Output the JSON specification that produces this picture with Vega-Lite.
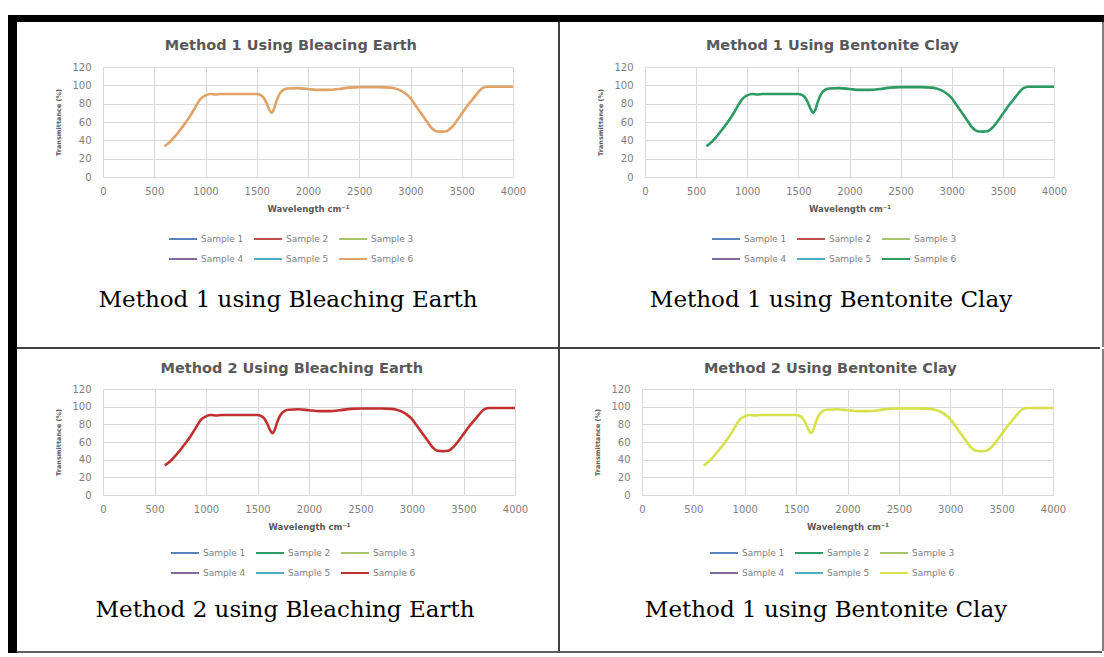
{
  "$schema": "https://vega.github.io/schema/vega-lite/v6.json",
  "background": "white",
  "padding": {"left": 8, "top": 15, "right": 0, "bottom": 0},
  "spacing": 0,
  "resolve": {"scale": {"color": "independent"}, "legend": {"color": "independent"}},
  "datasets": {
    "none": [],
    "ir": [
      {"w": 600, "t": 33.5, "s": "Sample 6"},
      {"w": 650, "t": 38, "s": "Sample 6"},
      {"w": 700, "t": 44, "s": "Sample 6"},
      {"w": 750, "t": 51, "s": "Sample 6"},
      {"w": 800, "t": 58.5, "s": "Sample 6"},
      {"w": 850, "t": 66.5, "s": "Sample 6"},
      {"w": 900, "t": 76, "s": "Sample 6"},
      {"w": 950, "t": 85, "s": "Sample 6"},
      {"w": 1000, "t": 89, "s": "Sample 6"},
      {"w": 1050, "t": 90.5, "s": "Sample 6"},
      {"w": 1100, "t": 90, "s": "Sample 6"},
      {"w": 1150, "t": 90.5, "s": "Sample 6"},
      {"w": 1200, "t": 90.5, "s": "Sample 6"},
      {"w": 1300, "t": 90.5, "s": "Sample 6"},
      {"w": 1400, "t": 90.5, "s": "Sample 6"},
      {"w": 1500, "t": 90.5, "s": "Sample 6"},
      {"w": 1550, "t": 88.5, "s": "Sample 6"},
      {"w": 1590, "t": 82, "s": "Sample 6"},
      {"w": 1620, "t": 74, "s": "Sample 6"},
      {"w": 1645, "t": 70, "s": "Sample 6"},
      {"w": 1665, "t": 73, "s": "Sample 6"},
      {"w": 1690, "t": 82, "s": "Sample 6"},
      {"w": 1720, "t": 90, "s": "Sample 6"},
      {"w": 1760, "t": 95, "s": "Sample 6"},
      {"w": 1800, "t": 96.5, "s": "Sample 6"},
      {"w": 1900, "t": 97, "s": "Sample 6"},
      {"w": 2000, "t": 96, "s": "Sample 6"},
      {"w": 2100, "t": 95, "s": "Sample 6"},
      {"w": 2200, "t": 95, "s": "Sample 6"},
      {"w": 2300, "t": 96, "s": "Sample 6"},
      {"w": 2400, "t": 97.5, "s": "Sample 6"},
      {"w": 2500, "t": 98, "s": "Sample 6"},
      {"w": 2600, "t": 98, "s": "Sample 6"},
      {"w": 2700, "t": 98, "s": "Sample 6"},
      {"w": 2800, "t": 97.5, "s": "Sample 6"},
      {"w": 2850, "t": 96.5, "s": "Sample 6"},
      {"w": 2900, "t": 94.5, "s": "Sample 6"},
      {"w": 2950, "t": 91, "s": "Sample 6"},
      {"w": 3000, "t": 86, "s": "Sample 6"},
      {"w": 3050, "t": 78, "s": "Sample 6"},
      {"w": 3100, "t": 70, "s": "Sample 6"},
      {"w": 3150, "t": 62, "s": "Sample 6"},
      {"w": 3200, "t": 54, "s": "Sample 6"},
      {"w": 3250, "t": 50, "s": "Sample 6"},
      {"w": 3300, "t": 49.5, "s": "Sample 6"},
      {"w": 3350, "t": 50, "s": "Sample 6"},
      {"w": 3400, "t": 54, "s": "Sample 6"},
      {"w": 3450, "t": 61, "s": "Sample 6"},
      {"w": 3500, "t": 69, "s": "Sample 6"},
      {"w": 3550, "t": 77, "s": "Sample 6"},
      {"w": 3600, "t": 84, "s": "Sample 6"},
      {"w": 3650, "t": 91, "s": "Sample 6"},
      {"w": 3700, "t": 97, "s": "Sample 6"},
      {"w": 3750, "t": 98.5, "s": "Sample 6"},
      {"w": 3800, "t": 98.5, "s": "Sample 6"},
      {"w": 3900, "t": 98.5, "s": "Sample 6"},
      {"w": 4000, "t": 98.5, "s": "Sample 6"}
    ]
  },
  "vconcat": [
    {"width": 1096, "height": 7, "data": {"name": "none"}, "mark": "rect", "view": {"fill": "black", "stroke": null}},
    {
      "spacing": 0,
      "resolve": {"scale": {"color": "independent"}, "legend": {"color": "independent"}},
      "hconcat": [
        {"width": 9, "height": 631, "data": {"name": "none"}, "mark": "rect", "view": {"fill": "black", "stroke": null}},
        {
          "spacing": 0,
          "resolve": {"scale": {"color": "independent"}, "legend": {"color": "independent"}},
          "vconcat": [
            {
              "spacing": 0,
              "resolve": {"scale": {"color": "independent"}, "legend": {"color": "independent"}},
              "hconcat": [
                {"width": 38, "height": 1, "data": {"name": "none"}, "mark": "rect"},
                {
                  "spacing": 0,
                  "resolve": {"scale": {"color": "independent"}, "legend": {"color": "independent"}},
                  "vconcat": [
                    {"width": 1, "height": 15, "data": {"name": "none"}, "mark": "rect"},
                    {
                      "width": 410, "height": 110,
                      "title": {"text": "Method 1 Using Bleacing Earth", "offset": 9},
                      "data": {"name": "ir"},
                      "mark": {"type": "line", "interpolate": "monotone", "strokeWidth": 2.6},
                      "encoding": {
                        "x": {"field": "w", "type": "quantitative", "scale": {"domain": [0, 4000], "nice": false}, "axis": {"values": [0, 500, 1000, 1500, 2000, 2500, 3000, 3500, 4000], "format": "d", "title": "Wavelength cm⁻¹"}},
                        "y": {"field": "t", "type": "quantitative", "scale": {"domain": [0, 120], "nice": false}, "axis": {"values": [0, 20, 40, 60, 80, 100, 120], "format": "d", "title": "Transmittance (%)"}},
                        "color": {"field": "s", "type": "nominal", "scale": {"domain": ["Sample 1", "Sample 2", "Sample 3", "Sample 4", "Sample 5", "Sample 6"], "range": ["#5b84be", "#c0504d", "#a9c46c", "#7f6a9e", "#4facc6", "#e0a266"]}, "legend": {"title": null, "orient": "none", "legendX": 65, "legendY": 157}}
                      }
                    },
                    {"width": 1, "height": 25, "data": {"name": "none"}, "mark": "rect"},
                    {"width": 370, "height": 1, "data": {"name": "none"}, "mark": "rect", "title": {"text": "Method 1 using Bleaching Earth", "font": "DejaVu Serif", "fontSize": 23, "fontWeight": "normal", "color": "black", "anchor": "middle", "frame": "group", "offset": 0}}
                  ]
                },
                {"width": 32, "height": 1, "data": {"name": "none"}, "mark": "rect"},
                {"width": 2, "height": 325, "data": {"name": "none"}, "mark": "rect", "view": {"fill": "#404040", "stroke": null}},
                {"width": 37, "height": 1, "data": {"name": "none"}, "mark": "rect"},
                {
                  "spacing": 0,
                  "resolve": {"scale": {"color": "independent"}, "legend": {"color": "independent"}},
                  "vconcat": [
                    {"width": 1, "height": 15, "data": {"name": "none"}, "mark": "rect"},
                    {
                      "width": 409, "height": 110,
                      "title": {"text": "Method 1 Using Bentonite Clay", "offset": 9},
                      "data": {"name": "ir"},
                      "mark": {"type": "line", "interpolate": "monotone", "strokeWidth": 2.6},
                      "encoding": {
                        "x": {"field": "w", "type": "quantitative", "scale": {"domain": [0, 4000], "nice": false}, "axis": {"values": [0, 500, 1000, 1500, 2000, 2500, 3000, 3500, 4000], "format": "d", "title": "Wavelength cm⁻¹"}},
                        "y": {"field": "t", "type": "quantitative", "scale": {"domain": [0, 120], "nice": false}, "axis": {"values": [0, 20, 40, 60, 80, 100, 120], "format": "d", "title": "Transmittance (%)"}},
                        "color": {"field": "s", "type": "nominal", "scale": {"domain": ["Sample 1", "Sample 2", "Sample 3", "Sample 4", "Sample 5", "Sample 6"], "range": ["#5b84be", "#c0504d", "#a9c46c", "#7f6a9e", "#4facc6", "#2e9a63"]}, "legend": {"title": null, "orient": "none", "legendX": 66, "legendY": 157}}
                      }
                    },
                    {"width": 1, "height": 25, "data": {"name": "none"}, "mark": "rect"},
                    {"width": 372, "height": 1, "data": {"name": "none"}, "mark": "rect", "title": {"text": "Method 1 using Bentonite Clay", "font": "DejaVu Serif", "fontSize": 23, "fontWeight": "normal", "color": "black", "anchor": "middle", "frame": "group", "offset": 0}}
                  ]
                },
                {"width": 35, "height": 1, "data": {"name": "none"}, "mark": "rect"},
                {"width": 2, "height": 325, "data": {"name": "none"}, "mark": "rect", "view": {"fill": "#808080", "stroke": null}}
              ]
            },
            {"width": 1083, "height": 2, "data": {"name": "none"}, "mark": "rect", "view": {"fill": "#404040", "stroke": null}},
            {
              "spacing": 0,
              "resolve": {"scale": {"color": "independent"}, "legend": {"color": "independent"}},
              "hconcat": [
                {"width": 38, "height": 1, "data": {"name": "none"}, "mark": "rect"},
                {
                  "spacing": 0,
                  "resolve": {"scale": {"color": "independent"}, "legend": {"color": "independent"}},
                  "vconcat": [
                    {"width": 1, "height": 11, "data": {"name": "none"}, "mark": "rect"},
                    {
                      "width": 412, "height": 106,
                      "title": {"text": "Method 2 Using Bleaching Earth", "offset": 8},
                      "data": {"name": "ir"},
                      "mark": {"type": "line", "interpolate": "monotone", "strokeWidth": 2.6},
                      "encoding": {
                        "x": {"field": "w", "type": "quantitative", "scale": {"domain": [0, 4000], "nice": false}, "axis": {"values": [0, 500, 1000, 1500, 2000, 2500, 3000, 3500, 4000], "format": "d", "title": "Wavelength cm⁻¹"}},
                        "y": {"field": "t", "type": "quantitative", "scale": {"domain": [0, 120], "nice": false}, "axis": {"values": [0, 20, 40, 60, 80, 100, 120], "format": "d", "title": "Transmittance (%)"}},
                        "color": {"field": "s", "type": "nominal", "scale": {"domain": ["Sample 1", "Sample 2", "Sample 3", "Sample 4", "Sample 5", "Sample 6"], "range": ["#5b84be", "#2e9a63", "#a9c46c", "#7f6a9e", "#4facc6", "#c0302f"]}, "legend": {"title": null, "orient": "none", "legendX": 67, "legendY": 149}}
                      }
                    },
                    {"width": 1, "height": 21, "data": {"name": "none"}, "mark": "rect"},
                    {"width": 364, "height": 1, "data": {"name": "none"}, "mark": "rect", "title": {"text": "Method 2 using Bleaching Earth", "font": "DejaVu Serif", "fontSize": 23, "fontWeight": "normal", "color": "black", "anchor": "middle", "frame": "group", "offset": 0}}
                  ]
                },
                {"width": 30, "height": 1, "data": {"name": "none"}, "mark": "rect"},
                {"width": 2, "height": 302, "data": {"name": "none"}, "mark": "rect", "view": {"fill": "#404040", "stroke": null}},
                {"width": 34, "height": 1, "data": {"name": "none"}, "mark": "rect"},
                {
                  "spacing": 0,
                  "resolve": {"scale": {"color": "independent"}, "legend": {"color": "independent"}},
                  "vconcat": [
                    {"width": 1, "height": 11, "data": {"name": "none"}, "mark": "rect"},
                    {
                      "width": 411, "height": 106,
                      "title": {"text": "Method 2 Using Bentonite Clay", "offset": 8},
                      "data": {"name": "ir"},
                      "mark": {"type": "line", "interpolate": "monotone", "strokeWidth": 2.6},
                      "encoding": {
                        "x": {"field": "w", "type": "quantitative", "scale": {"domain": [0, 4000], "nice": false}, "axis": {"values": [0, 500, 1000, 1500, 2000, 2500, 3000, 3500, 4000], "format": "d", "title": "Wavelength cm⁻¹"}},
                        "y": {"field": "t", "type": "quantitative", "scale": {"domain": [0, 120], "nice": false}, "axis": {"values": [0, 20, 40, 60, 80, 100, 120], "format": "d", "title": "Transmittance (%)"}},
                        "color": {"field": "s", "type": "nominal", "scale": {"domain": ["Sample 1", "Sample 2", "Sample 3", "Sample 4", "Sample 5", "Sample 6"], "range": ["#5b84be", "#2e9a63", "#a9c46c", "#7f6a9e", "#4facc6", "#d6e24a"]}, "legend": {"title": null, "orient": "none", "legendX": 67, "legendY": 149}}
                      }
                    },
                    {"width": 1, "height": 21, "data": {"name": "none"}, "mark": "rect"},
                    {"width": 368, "height": 1, "data": {"name": "none"}, "mark": "rect", "title": {"text": "Method 1 using Bentonite Clay", "font": "DejaVu Serif", "fontSize": 23, "fontWeight": "normal", "color": "black", "anchor": "middle", "frame": "group", "offset": 0}}
                  ]
                },
                {"width": 36, "height": 1, "data": {"name": "none"}, "mark": "rect"},
                {"width": 2, "height": 302, "data": {"name": "none"}, "mark": "rect", "view": {"fill": "#808080", "stroke": null}}
              ]
            },
            {"width": 1085, "height": 2, "data": {"name": "none"}, "mark": "rect", "view": {"fill": "#606060", "stroke": null}}
          ]
        }
      ]
    }
  ],
  "config": {
    "view": {"stroke": null},
    "font": "DejaVu Sans",
    "title": {"font": "DejaVu Sans", "fontSize": 14.5, "fontWeight": "bold", "color": "#595959", "anchor": "middle", "frame": "bounds"},
    "axis": {"domain": false, "ticks": false, "grid": true, "gridColor": "#d9d9d9", "gridWidth": 1, "labelFont": "DejaVu Sans", "labelFontSize": 10, "labelColor": "#808080", "titleFont": "DejaVu Sans", "titleFontSize": 8.5, "titleFontWeight": "bold", "titleColor": "#595959"},
    "axisX": {"labelPadding": 9, "titlePadding": 8, "labelFlush": false},
    "axisY": {"labelPadding": 12, "titlePadding": 10, "titleFontSize": 6.5},
    "legend": {"direction": "horizontal", "columns": 3, "symbolType": "stroke", "symbolStrokeWidth": 2, "symbolSize": 784, "labelFont": "DejaVu Sans", "labelFontSize": 9, "labelColor": "#7f7f7f", "labelOffset": 3, "columnPadding": 6, "rowPadding": -12}
  }
}
